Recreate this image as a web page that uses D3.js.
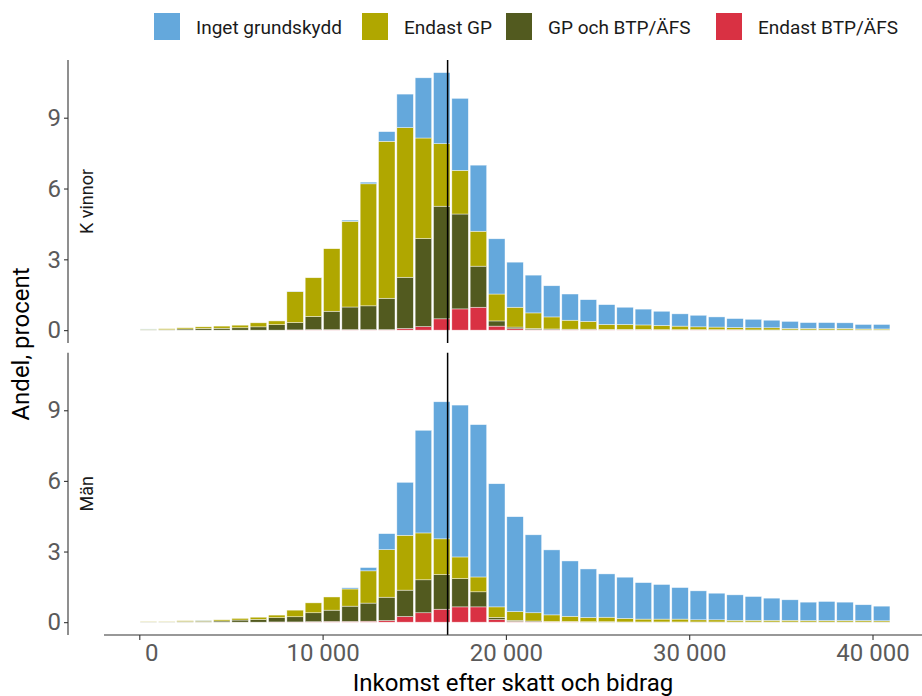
<!DOCTYPE html>
<html><head><meta charset="utf-8">
<script src="https://cdn.jsdelivr.net/npm/d3@7"></script>
<style>body{margin:0;background:#fff}svg{display:block;font-family:Roboto,sans-serif}</style>
</head><body>
<svg id="c" width="922" height="696"></svg>
<script>
// ---- data ----
const bins = [500,1500,2500,3500,4500,5500,6500,7500,8500,9500,10500,11500,12500,13500,14500,15500,16500,17500,18500,19500,20500,21500,22500,23500,24500,25500,26500,27500,28500,29500,30500,31500,32500,33500,34500,35500,36500,37500,38500,39500,40500];
const seriesNames = ["Inget grundskydd","Endast GP","GP och BTP/ÄFS","Endast BTP/ÄFS"];
const seriesColors = ["#64a8dc","#b0a700","#525a1f","#d93143"];
const panels = ["K vinnor","Män"];
const xTicks = [0,10000,20000,30000,40000];
const xTickLabels = ["0","10 000","20 000","30 000","40 000"];
const yTicks = [0,3,6,9];
const medianLine = 16820;

// Kvinnor
const kv_inget = [0.01,0,0,0,0,0,0,0,0.01,0,0,0.05,0.07,0.41,1.42,2.55,3.01,3.05,2.80,2.34,1.91,1.60,1.32,1.11,0.92,0.84,0.73,0.67,0.60,0.52,0.49,0.43,0.38,0.36,0.32,0.30,0.25,0.25,0.24,0.19,0.19];
const kv_endastGP = [0.03,0.04,0.05,0.07,0.09,0.11,0.17,0.16,1.31,1.64,2.65,3.63,5.17,6.65,6.34,4.26,2.65,1.85,1.48,1.14,0.84,0.66,0.51,0.38,0.33,0.21,0.21,0.19,0.18,0.15,0.12,0.11,0.09,0.09,0.09,0.06,0.06,0.06,0.06,0.04,0.04];
const kv_gpBtp = [0.01,0.02,0.05,0.07,0.08,0.10,0.14,0.23,0.31,0.56,0.78,0.96,1.01,1.33,2.17,3.73,4.77,4.02,1.74,0.22,0.07,0.05,0.03,0.02,0.02,0.02,0.02,0.02,0.01,0.01,0.01,0.01,0.01,0.01,0.01,0.01,0.01,0.01,0.01,0.01,0.01];
const kv_endastBtp = [0,0,0,0,0,0,0,0,0.01,0.02,0.02,0.02,0.02,0.02,0.07,0.15,0.48,0.90,0.97,0.17,0.06,0.02,0.02,0.02,0.02,0.01,0.01,0.01,0.01,0.01,0.01,0.01,0.01,0,0,0,0,0,0,0,0];
// Män
const man_inget = [0,0,0,0.01,0,0,0,0,0,0,0,0.05,0.14,0.68,2.25,4.36,5.82,6.45,6.47,5.23,4.03,3.31,2.76,2.35,2.06,1.84,1.75,1.55,1.47,1.34,1.23,1.13,1.08,1.01,0.94,0.87,0.78,0.81,0.78,0.67,0.62];
const man_endastGP = [0.02,0.02,0.03,0.03,0.05,0.07,0.09,0.11,0.28,0.42,0.56,0.73,1.37,2.02,2.33,1.99,1.52,0.92,0.63,0.45,0.37,0.35,0.28,0.22,0.18,0.19,0.15,0.12,0.12,0.12,0.09,0.09,0.07,0.07,0.07,0.07,0.06,0.06,0.06,0.06,0.05];
const man_gpBtp = [0.01,0.01,0.03,0.04,0.05,0.09,0.12,0.18,0.22,0.38,0.48,0.65,0.77,0.99,1.12,1.40,1.47,1.20,0.64,0.09,0.05,0.03,0.02,0.02,0.02,0.02,0.01,0.01,0.01,0.01,0.01,0.01,0.01,0.01,0.01,0.01,0.01,0.01,0.01,0.01,0.01];
const man_endastBtp = [0,0,0,0,0,0,0,0.01,0.01,0.02,0.03,0.03,0.04,0.07,0.24,0.40,0.55,0.65,0.65,0.11,0.03,0.02,0.01,0.01,0,0,0,0,0,0,0,0,0,0,0,0,0,0,0,0,0];

// ---- layout ----
const svg = d3.select("#c");
const panelLeft = 104, panelRight = 922;
const panelBox = [{top:60,bottom:343},{top:352.7,bottom:635}];
const yAxisX = 68;
const x = d3.scaleLinear().domain([-1926,42700]).range([panelLeft,panelRight]);
const binW = 1000*0.9;

const panelData = [
  [kv_inget, kv_endastGP, kv_gpBtp, kv_endastBtp],
  [man_inget, man_endastGP, man_gpBtp, man_endastBtp]
];
// stack order bottom -> top: Endast BTP/ÄFS, GP och BTP/ÄFS, Endast GP, Inget grundskydd
const stackKeys = [3,2,1,0];

panels.forEach((name, p) => {
  const box = panelBox[p];
  const y = d3.scaleLinear().domain([-0.545,11.445]).range([box.bottom, box.top]);
  const rows = bins.map((b,i)=>{
    const r = {bin:b};
    stackKeys.forEach(k=>{ r[k]=panelData[p][k][i]; });
    return r;
  });
  const stacked = d3.stack().keys(stackKeys)(rows);
  const g = svg.append("g");
  stacked.forEach(layer=>{
    g.append("g").selectAll("rect").data(layer).join("rect")
      .attr("x", d=>x(d.data.bin - binW/2))
      .attr("width", d=>x(d.data.bin + binW/2)-x(d.data.bin - binW/2))
      .attr("y", d=>y(d[1]))
      .attr("height", d=>Math.max(0, y(d[0])-y(d[1])))
      .attr("fill", seriesColors[layer.key])
      .attr("stroke","#fff").attr("stroke-opacity",0.7).attr("stroke-width",0.6);
  });
  // median line
  g.append("line").attr("x1",x(medianLine)).attr("x2",x(medianLine))
    .attr("y1",box.top).attr("y2",box.bottom).attr("stroke","#000").attr("stroke-width",1.5);
  // y axis
  const ya = svg.append("g").attr("transform",`translate(${yAxisX},0)`)
    .call(d3.axisLeft(y).tickValues(yTicks).tickSize(4).tickPadding(3).tickFormat(d3.format("d")));
  ya.select(".domain").attr("d",`M0,${box.top}V${box.bottom}`).attr("stroke","#333").attr("stroke-width",1.1);
  ya.selectAll(".tick line").attr("stroke","#333").attr("stroke-width",1.1);
  ya.selectAll(".tick text").attr("font-size",24).attr("fill","#5a5a5a").attr("font-family","Roboto");
  // strip label
  svg.append("text").attr("transform",`translate(93,${(box.top+box.bottom)/2}) rotate(-90)`)
    .attr("text-anchor","middle").attr("font-size",18).attr("fill","#1a1a1a").text(name);
});

// x axis
const xa = svg.append("g").attr("transform","translate(0,635)")
  .call(d3.axisBottom(x).tickValues(xTicks).tickSize(5).tickPadding(4).tickFormat((d,i)=>xTickLabels[i]));
xa.select(".domain").attr("d",`M${panelLeft},0H${panelRight}`).attr("stroke","#333").attr("stroke-width",1.1);
xa.selectAll(".tick line").attr("stroke","#333").attr("stroke-width",1.1);
xa.selectAll(".tick text").attr("font-size",24).attr("fill","#5a5a5a").attr("font-family","Roboto")
  .attr("dx",(d)=>d===0?12:0);

// axis titles
svg.append("text").attr("x",(panelLeft+panelRight)/2).attr("y",691).attr("text-anchor","middle")
  .attr("font-size",24).attr("fill","#000").text("Inkomst efter skatt och bidrag");
svg.append("text").attr("transform","translate(29,344) rotate(-90)").attr("text-anchor","middle")
  .attr("font-size",24).attr("fill","#000").text("Andel, procent");

// legend
const legendKeyX = [154,362,506,716];
const lg = svg.append("g");
seriesNames.forEach((n,i)=>{
  lg.append("rect").attr("x",legendKeyX[i]).attr("y",13).attr("width",26).attr("height",27).attr("fill",seriesColors[i]);
  lg.append("text").attr("x",legendKeyX[i]+42).attr("y",27).attr("dy","0.35em")
    .attr("font-size",19).attr("fill","#1a1a1a").text(n);
});
</script>
</body></html>
